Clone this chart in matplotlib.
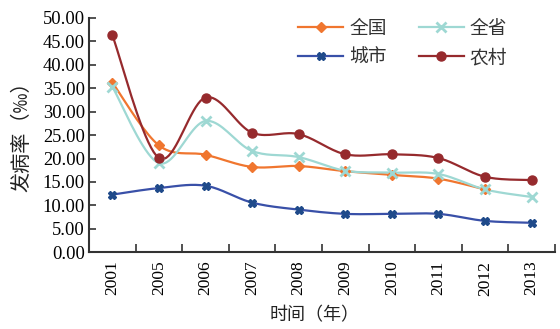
import matplotlib
matplotlib.use("Agg")
import matplotlib.pyplot as plt
import numpy as np

# data
years = ["2001", "2005", "2006", "2007", "2008", "2009", "2010", "2011", "2012", "2013"]
quanguo = [36.2, 22.8, 20.8, 18.2, 18.4, 17.3, 16.5, 15.7, 13.4]
quansheng = [35.3, 19.0, 28.0, 21.6, 20.3, 17.4, 17.0, 16.7, 13.4, 11.8]
chengshi = [12.3, 13.7, 14.2, 10.6, 9.1, 8.2, 8.2, 8.2, 6.7, 6.3]
nongcun = [46.3, 20.1, 33.0, 25.5, 25.2, 20.9, 20.9, 20.1, 16.1, 15.4]

CJK = ["Noto Sans CJK SC", "DejaVu Sans"]
SERIF = "Liberation Serif"


def smooth(xs, ys, n=20):
    # catmull-rom curve through the points, like excel's smoothed line
    px = np.array(xs, dtype=float)
    py = np.array(ys, dtype=float)
    px = np.concatenate([[px[0]], px, [px[-1]]])
    py = np.concatenate([[py[0]], py, [py[-1]]])
    out_x, out_y = [], []
    t = np.linspace(0, 1, n)
    for i in range(1, len(px) - 2):
        for arr, out in ((px, out_x), (py, out_y)):
            p0, p1, p2, p3 = arr[i - 1], arr[i], arr[i + 1], arr[i + 2]
            c1 = p1 + (p2 - p0) / 6
            c2 = p2 - (p3 - p1) / 6
            seg = (1 - t) ** 3 * p1 + 3 * (1 - t) ** 2 * t * c1 + 3 * (1 - t) * t ** 2 * c2 + t ** 3 * p2
            out.extend(seg)
    return out_x, out_y


fig = plt.figure(figsize=(5.6, 3.29), dpi=100)
ax = fig.add_axes([0.159, 0.233, 0.832, 0.713])

series = [
    ("全国", quanguo, "#F0762F", dict(marker="D", markersize=5)),
    ("全省", quansheng, "#9ED8D3", dict(marker="x", markersize=6.5, markeredgewidth=2)),
    ("城市", chengshi, "#3950A8", dict(marker="X", markersize=6, markeredgecolor="#1F4A8A", markerfacecolor="#1F4A8A")),
    ("农村", nongcun, "#962A2D", dict(marker="o", markersize=6.5)),
]

handles = []
for name, vals, color, mk in series:
    idx = np.arange(len(vals))
    sx, sy = smooth(idx, vals)
    ax.plot(sx, sy, color=color, lw=1.6, zorder=2)
    ax.plot(idx, vals, linestyle="none", color=color, zorder=3, **mk)
    h, = ax.plot([], [], color=color, lw=1.6, **mk)
    handles.append((h, name))

ax.set_xlim(-0.5, len(years) - 0.5)
ax.set_ylim(0, 50)
ax.set_yticks(np.arange(0, 50.1, 5))
ax.set_yticklabels(["%.2f" % v for v in np.arange(0, 50.1, 5)], fontfamily=SERIF, fontsize=13.3)
ax.set_xticks(np.arange(len(years)))
ax.set_xticklabels(years, rotation=90, fontfamily=SERIF, fontsize=12.5)
ax.set_xticks(np.arange(-0.5, len(years)), minor=True)
ax.tick_params(axis="x", which="major", length=0, pad=6)
ax.tick_params(axis="x", which="minor", direction="in", length=6, width=1.2, color="#333333")
ax.tick_params(axis="y", direction="in", length=5, width=1.2, color="#333333", pad=3)

for s in ["top", "right"]:
    ax.spines[s].set_visible(False)
for s in ["left", "bottom"]:
    ax.spines[s].set_linewidth(1.5)
    ax.spines[s].set_color("#333333")

order = [0, 2, 1, 3]
leg = ax.legend([handles[i][0] for i in order], [handles[i][1] for i in order],
                ncol=2, frameon=False, loc="upper left", borderpad=0,
                bbox_to_anchor=(0.516, 0.975), bbox_transform=fig.transFigure,
                prop={"family": CJK, "size": 13.5}, handlelength=2.4,
                handletextpad=0.32, columnspacing=1.7, labelspacing=0.45)
for t in leg.get_texts():
    t.set_color("#333333")

fig.text(0.039, 0.60, "发病率（‰）", rotation=90, ha="center", va="center",
         family=CJK, fontsize=14.5, color="#222222")
fig.text(0.5625, 0.043, "时间（年）", ha="center", va="center",
         family=CJK, fontsize=13, color="#222222")

fig.savefig("out.png", dpi=100)
